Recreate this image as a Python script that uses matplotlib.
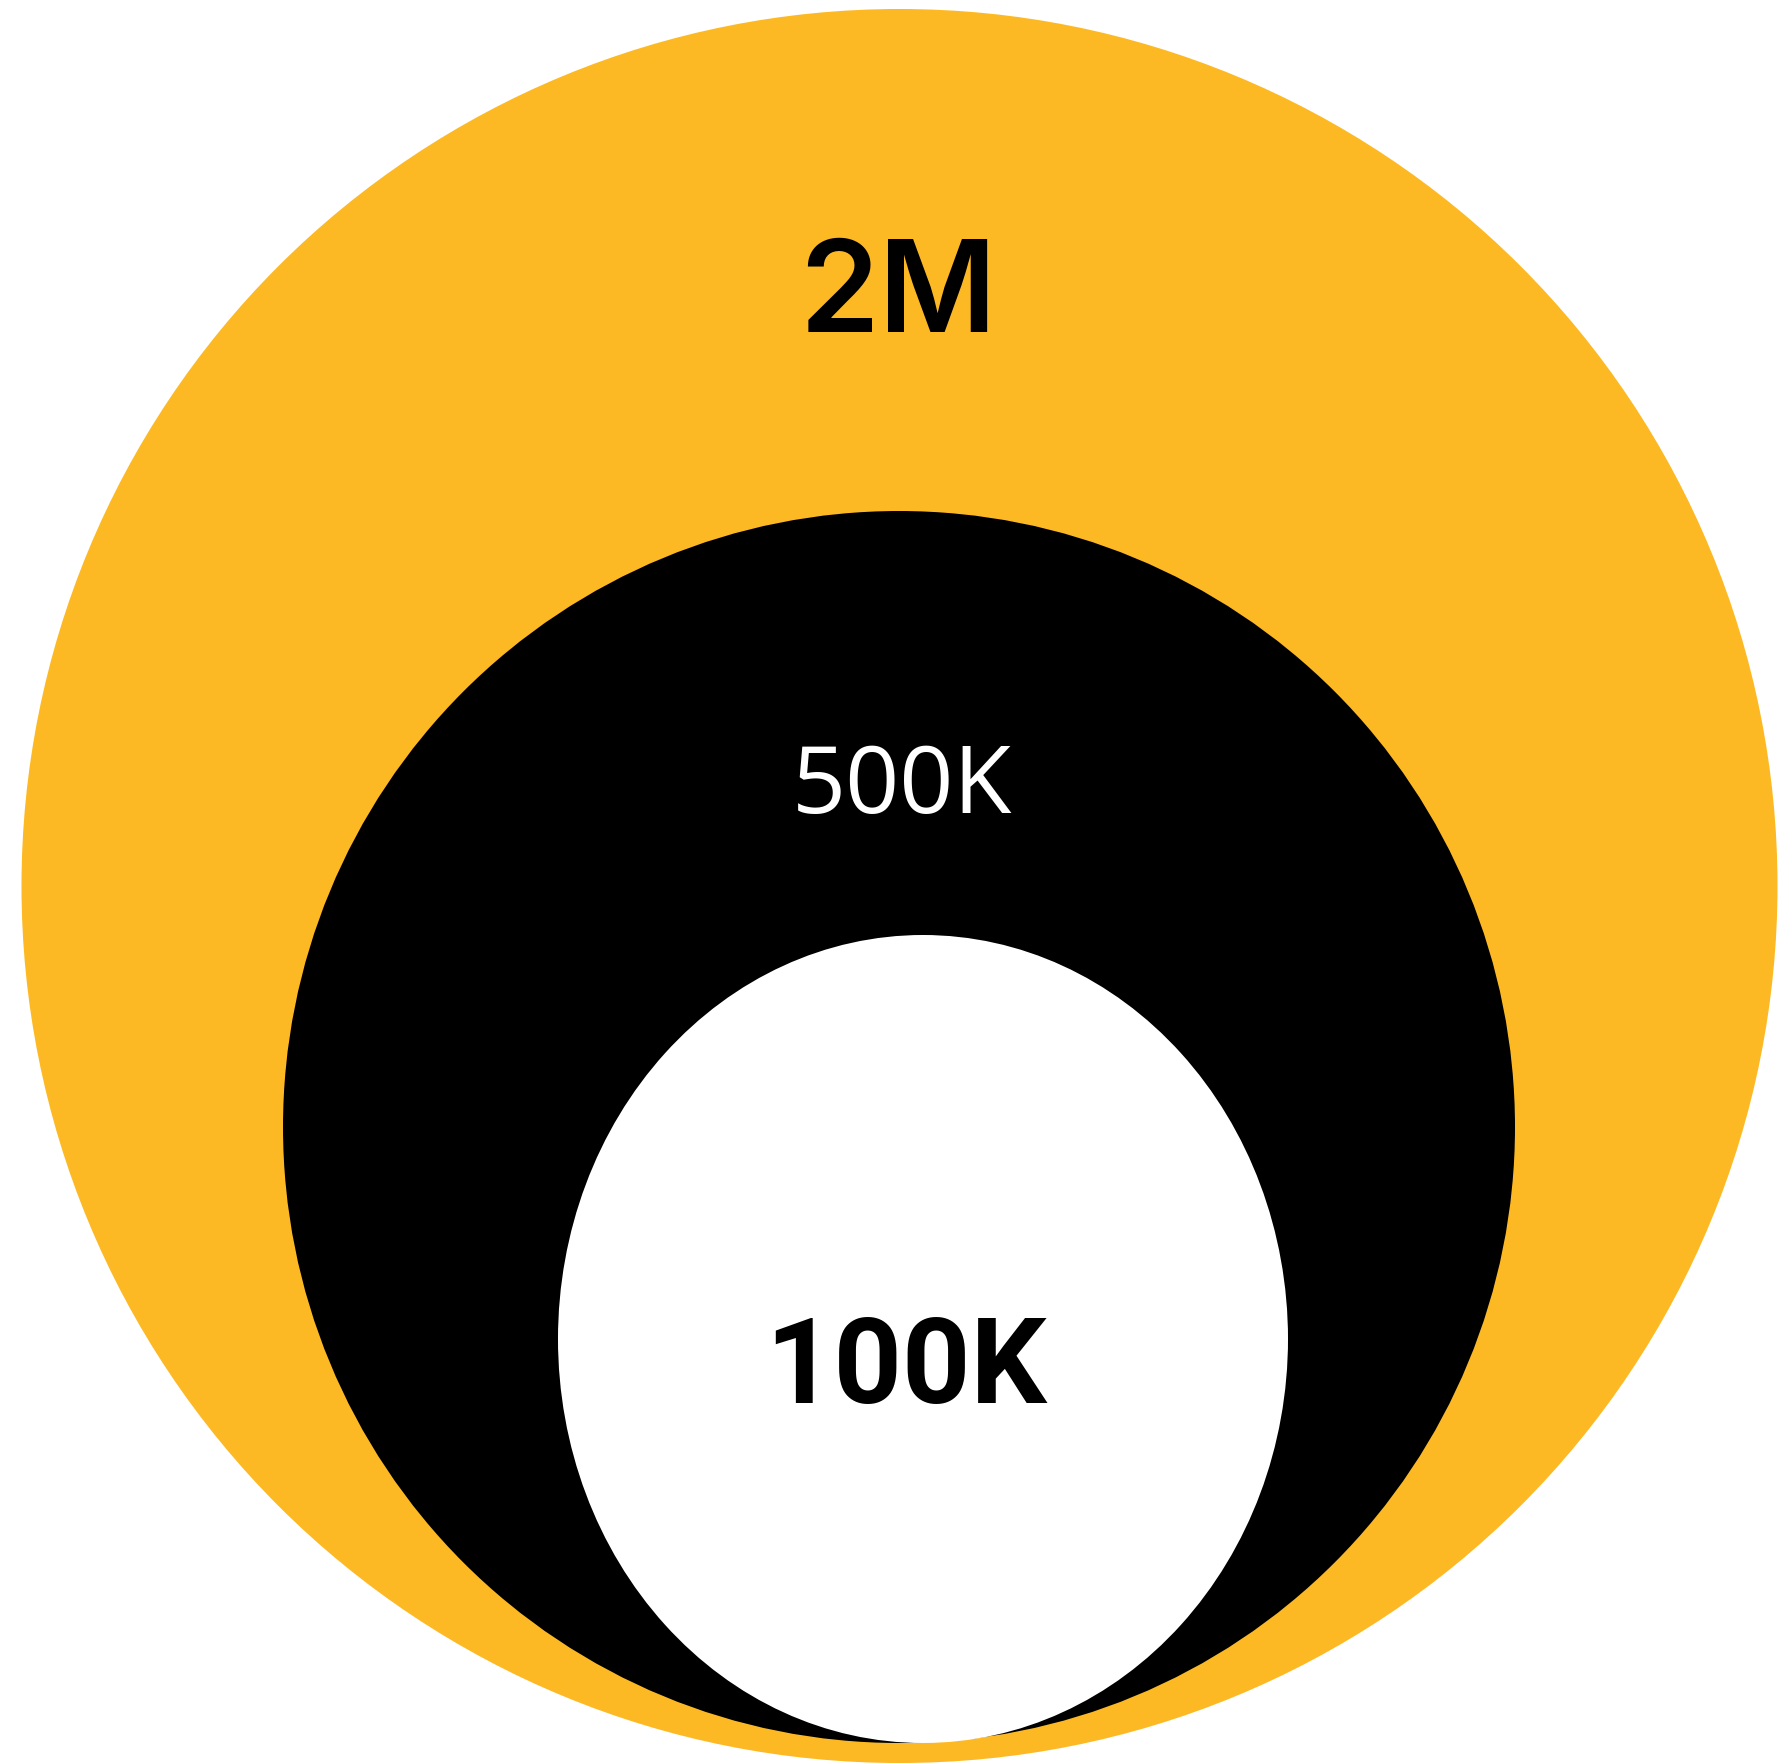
import matplotlib
matplotlib.use("Agg")
import matplotlib.pyplot as plt
from matplotlib.patches import Ellipse
from matplotlib import font_manager as fm

# Data
labels = ["2M", "500K", "100K"]
values = [2_000_000, 500_000, 100_000]

# Layout (pixel coordinates) and styles
W, H = 1783, 1764
centers = [(899.5, 886), (899, 1127), (923, 1339)]
sizes = [(1756, 1754), (1232, 1232), (730, 808)]
fills = ["#FDB924", "#000000", "#FFFFFF"]
label_pos = [(898, 285), (902, 778), (906, 1359)]
label_colors = ["#000000", "#FFFFFF", "#000000"]
label_fonts = [("Inter", "Inter-SemiBold", "semibold", 92),
               ("Open Sans", "OpenSans-Regular", "normal", 68),
               ("Roboto", "Roboto-Bold", "bold", 86)]


def font_for(name, stem, weight, size):
    for f in fm.fontManager.ttflist:
        if f.name == name and f.fname.split("/")[-1].rsplit(".", 1)[0] == stem:
            return fm.FontProperties(fname=f.fname, size=size)
    try:
        path = fm.findfont(fm.FontProperties(family=name, weight=weight),
                           fallback_to_default=False)
        return fm.FontProperties(fname=path, size=size)
    except Exception:
        return fm.FontProperties(family="DejaVu Sans", weight=weight, size=size)


fig = plt.figure(figsize=(W / 100, H / 100), dpi=100)
ax = fig.add_axes([0, 0, 1, 1])
ax.set_xlim(0, W)
ax.set_ylim(H, 0)
ax.axis("off")

for (cx, cy), (w, h), c in zip(centers, sizes, fills):
    ax.add_patch(Ellipse((cx, cy), w, h, facecolor=c, edgecolor="none"))

for lab, (x, y), col, (fam, stem, wt, fs) in zip(labels, label_pos, label_colors, label_fonts):
    ax.text(x, y, lab, ha="center", va="center_baseline", color=col,
            fontproperties=font_for(fam, stem, wt, fs))

fig.savefig("out.png", dpi=100)
